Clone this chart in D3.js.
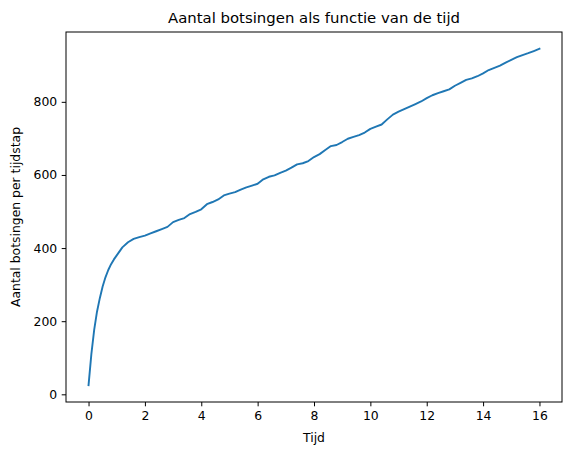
<!DOCTYPE html>
<html>
<head>
<meta charset="utf-8">
<script src="https://cdn.jsdelivr.net/npm/d3@7"></script>
<style>
	body { margin: 0; background: #fff; }
	text { font-family: "DejaVu Sans", sans-serif; fill: #000; }
	.axis path, .axis line { stroke: #000; stroke-width: 1; }
	.axis text { font-size: 12.4px; }
</style>
</head>
<body>
<div id="chart"></div>
<script>
// time (Tijd)
var tijd = [0.0, 0.1, 0.2, 0.3, 0.4, 0.5, 0.6, 0.7, 0.8, 0.9, 1.0,
	1.2, 1.4, 1.6, 1.8, 2.0, 2.2, 2.4, 2.6, 2.8, 3.0, 3.2, 3.4, 3.6, 3.8, 4.0,
	4.2, 4.4, 4.6, 4.8, 5.0, 5.2, 5.4, 5.6, 5.8, 6.0, 6.2, 6.4, 6.6, 6.8, 7.0,
	7.2, 7.4, 7.6, 7.8, 8.0, 8.2, 8.4, 8.6, 8.8, 9.0, 9.2, 9.4, 9.6, 9.8, 10.0,
	10.2, 10.4, 10.6, 10.8, 11.0, 11.2, 11.4, 11.6, 11.8, 12.0, 12.2, 12.4, 12.6, 12.8, 13.0,
	13.2, 13.4, 13.6, 13.8, 14.0, 14.2, 14.4, 14.6, 14.8, 15.0, 15.2, 15.4, 15.6, 15.8, 16.0];

// collisions per time step
var botsingen = [25, 110, 176, 226, 263, 295, 320, 340, 356, 369, 380,
	402, 416, 425, 430, 434, 440, 446, 452, 458, 471, 477, 482, 493, 499, 506,
	520, 526, 533, 544, 549, 553, 560, 566, 571, 576, 588, 595, 599, 606, 612,
	620, 629, 632, 638, 649, 657, 668, 679, 682, 690, 699, 704, 709, 716, 726,
	732, 738, 752, 765, 773, 780, 787, 794, 801, 810, 818, 824, 829, 834, 844,
	852, 860, 864, 870, 878, 887, 893, 899, 907, 915, 922, 928, 933, 939, 945];

var xTicks = [0, 2, 4, 6, 8, 10, 12, 14, 16];
var yTicks = [0, 200, 400, 600, 800];

var svg = d3.select("#chart")
	.append("svg")
	.attr("width", 571)
	.attr("height", 455);

var margin = {top: 32, right: 9, bottom: 53, left: 66},
	width = +svg.attr("width") - margin.left - margin.right,
	height = +svg.attr("height") - margin.top - margin.bottom,
	g = svg.append("g").attr("transform", "translate(" + margin.left + "," + margin.top + ")");

// matplotlib style 5% padding on both axes
var xMin = d3.min(tijd), xMax = d3.max(tijd),
	yMin = d3.min(botsingen), yMax = d3.max(botsingen),
	xPad = (xMax - xMin) * 0.05, yPad = (yMax - yMin) * 0.05;

var xScale = d3.scaleLinear().domain([xMin - xPad, xMax + xPad]).range([0, width]),
	yScale = d3.scaleLinear().domain([yMin - yPad, yMax + yPad]).range([height, 0]);

var xAxis = d3.axisBottom(xScale).tickValues(xTicks).tickFormat(d3.format("d"))
		.tickSizeInner(4.3).tickSizeOuter(0).tickPadding(4.5),
	yAxis = d3.axisLeft(yScale).tickValues(yTicks).tickFormat(d3.format("d"))
		.tickSizeInner(4.3).tickSizeOuter(0).tickPadding(4.5);

// x-axis
g.append("g")
	.attr("class", "x axis")
	.attr("transform", "translate(0," + height + ")")
	.call(xAxis)
	.select(".domain").remove();

// y-axis
g.append("g")
	.attr("class", "y axis")
	.call(yAxis)
	.select(".domain").remove();

// frame
g.append("rect")
	.attr("x", 0)
	.attr("y", 0)
	.attr("width", width)
	.attr("height", height)
	.style("fill", "none")
	.style("stroke", "#000")
	.style("stroke-width", 1);

// line
var line = d3.line()
	.x(function(d, i) { return xScale(tijd[i]); })
	.y(function(d) { return yScale(d); });

g.append("path")
	.datum(botsingen)
	.attr("d", line)
	.style("fill", "none")
	.style("stroke", "#1f77b4")
	.style("stroke-width", 1.9)
	.style("stroke-linejoin", "round")
	.style("stroke-linecap", "square");

// title
svg.append("text")
	.attr("x", margin.left + width / 2)
	.attr("y", 23)
	.style("text-anchor", "middle")
	.style("font-size", "14.9px")
	.text("Aantal botsingen als functie van de tijd");

// x-axis label
svg.append("text")
	.attr("x", margin.left + width / 2)
	.attr("y", 442)
	.style("text-anchor", "middle")
	.style("font-size", "12.4px")
	.text("Tijd");

// y-axis label
svg.append("text")
	.attr("transform", "rotate(-90)")
	.attr("x", -(margin.top + height / 2))
	.attr("y", 20)
	.style("text-anchor", "middle")
	.style("font-size", "12.4px")
	.text("Aantal botsingen per tijdstap");
</script>
</body>
</html>
